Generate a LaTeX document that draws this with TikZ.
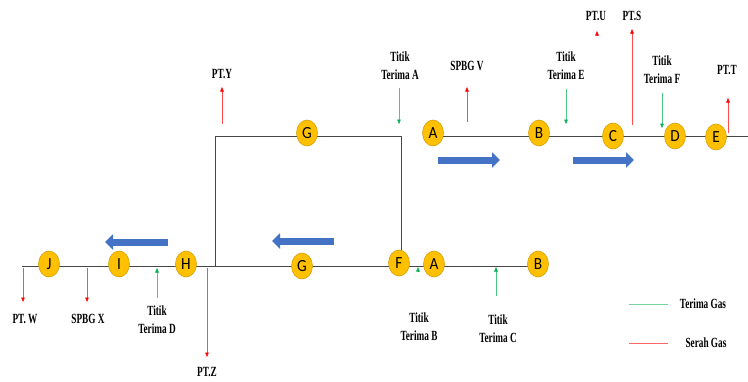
\documentclass[tikz,border=0pt]{standalone}
\usepackage{fontspec}
\setmainfont{Liberation Serif}
\newfontfamily\labelfont[FakeStretch=0.66]{Liberation Serif}
\newfontfamily\nodefont[FakeStretch=0.9]{Carlito}
\usetikzlibrary{arrows.meta,shapes.geometric}
\definecolor{pipe}{RGB}{70,70,70}
\definecolor{junction}{RGB}{255,192,0}
\definecolor{junctionedge}{RGB}{205,155,0}
\definecolor{flow}{RGB}{68,114,196}
\definecolor{gasin}{RGB}{0,176,80}
\definecolor{gasout}{RGB}{255,0,0}
\begin{document}
\begin{tikzpicture}[x=1pt,y=-1pt,
  junc/.style={ellipse, fill=junction, draw=junctionedge, line width=0.5pt,
    minimum width=21pt, minimum height=26pt, inner sep=0pt,
    font=\nodefont\fontsize{17}{17}\selectfont},
  pipeline/.style={draw=pipe, line width=0.8pt},
  flowarrow/.style={draw=flow, line width=7pt, -{Triangle[length=8pt,width=15pt]}},
  gasarrow/.style={line width=0.5pt, -{Triangle[length=4.5pt,width=3.5pt]}},
  inarrow/.style={gasarrow, draw=gasin!70, -{Triangle[length=4.5pt,width=3.5pt,color=gasin]}},
  outarrow/.style={gasarrow, draw=gasout!70, -{Triangle[length=4.5pt,width=3.5pt,color=gasout]}},
  lbl/.style={font=\labelfont\bfseries\fontsize{14}{18}\selectfont, align=center, inner sep=0pt},
  legendline/.style={line width=1pt}]
\useasboundingbox (0,0) rectangle (748,381);
\fill[white] (0,0) rectangle (748,381);

% ---- pipe corners and free ends
\coordinate (rectTL) at (215,136);
\coordinate (rectTR) at (401,136);
\coordinate (rectBL) at (215,266);
\coordinate (rectBR) at (401,266);
\coordinate (topEnd) at (748,136);
\coordinate (botStart) at (22,266);

% ---- pipelines
\draw[pipeline] (rectBL) -- (rectTL) -- (rectTR) -- (rectBR);
\draw[pipeline] (433,136) -- (topEnd);
\draw[pipeline] (botStart) -- (537,266);

% ---- upper line junctions
\node[junc] (gTop) at (307,133) {G};
\node[junc] (aTop) at (433,133) {A};
\node[junc] (bTop) at (539,133) {B};
\node[junc] (cTop) at (613,136) {C};
\node[junc] (dTop) at (675,136) {D};
\node[junc] (eTop) at (716,137) {E};

% ---- lower line junctions
\node[junc] (jBot) at (49,264) {J};
\node[junc] (iBot) at (119,264) {I};
\node[junc] (hBot) at (186,264) {H};
\node[junc] (gBot) at (302,266) {G};
\node[junc] (fBot) at (399,263) {F};
\node[junc] (aBot) at (434,264) {A};
\node[junc] (bBot) at (538,264) {B};

% ---- flow direction arrows
\coordinate (f1s) at (438,160); \coordinate (f1e) at (500,160);
\coordinate (f2s) at (573,160); \coordinate (f2e) at (634,160);
\coordinate (f3s) at (168,242); \coordinate (f3e) at (105,242);
\coordinate (f4s) at (334,241); \coordinate (f4e) at (272,241);
\draw[flowarrow] (f1s) -- (f1e);
\draw[flowarrow] (f2s) -- (f2e);
\draw[flowarrow] (f3s) -- (f3e);
\draw[flowarrow] (f4s) -- (f4e);

% ---- upper line: receiving and delivery points
\node[lbl] (tPTY) at (222,74) {PT.Y};
\coordinate (aPTYs) at (222,124); \coordinate (aPTYe) at (222,87);
\draw[outarrow] (aPTYs) -- (aPTYe);

\node[lbl] (tTA) at (400,66) {Titik\\Terima A};
\coordinate (aTAs) at (399,88); \coordinate (aTAe) at (399,124);
\draw[inarrow] (aTAs) -- (aTAe);

\node[lbl] (tSPBGV) at (467,66) {SPBG V};
\coordinate (aSVs) at (467,122); \coordinate (aSVe) at (467,87);
\draw[outarrow] (aSVs) -- (aSVe);

\node[lbl] (tTE) at (566,66) {Titik\\Terima E};
\coordinate (aTEs) at (566,89); \coordinate (aTEe) at (566,124);
\draw[inarrow] (aTEs) -- (aTEe);

\node[lbl] (tPTU) at (596,16) {PT.U};
\coordinate (aPUs) at (597,36); \coordinate (aPUe) at (597,31);
\draw[outarrow] (aPUs) -- (aPUe);

\node[lbl] (tPTS) at (632,16) {PT.S};
\coordinate (aPSs) at (632,125); \coordinate (aPSe) at (632,29);
\draw[outarrow] (aPSs) -- (aPSe);

\node[lbl] (tTF) at (662,70) {Titik\\Terima F};
\coordinate (aTFs) at (662,93); \coordinate (aTFe) at (662,128);
\draw[inarrow] (aTFs) -- (aTFe);

\node[lbl] (tPTT) at (727,70) {PT.T};
\coordinate (aPTs) at (728,133); \coordinate (aPTe) at (728,98);
\draw[outarrow] (aPTs) -- (aPTe);

% ---- lower line: receiving and delivery points
\node[lbl] (tPTW) at (25,319) {PT. W};
\coordinate (aPWs) at (23,268); \coordinate (aPWe) at (23,302);
\draw[outarrow] (aPWs) -- (aPWe);

\node[lbl] (tSPBGX) at (88,319) {SPBG X};
\coordinate (aSXs) at (87,268); \coordinate (aSXe) at (87,302);
\draw[outarrow] (aSXs) -- (aSXe);

\node[lbl] (tTD) at (157,320) {Titik\\Terima D};
\coordinate (aTDs) at (157,298); \coordinate (aTDe) at (157,268);
\draw[inarrow] (aTDs) -- (aTDe);

\node[lbl] (tPTZ) at (207,372) {PT.Z};
\coordinate (aPZs) at (207,268); \coordinate (aPZe) at (207,357);
\draw[outarrow] (aPZs) -- (aPZe);

\node[lbl] (tTB) at (419,327) {Titik\\Terima B};
\coordinate (aTBs) at (418,272); \coordinate (aTBe) at (418,267);
\draw[inarrow] (aTBs) -- (aTBe);

\node[lbl] (tTC) at (498,329) {Titik\\Terima C};
\coordinate (aTCs) at (496,296); \coordinate (aTCe) at (496,267);
\draw[inarrow] (aTCs) -- (aTCe);

% ---- legend
\coordinate (lgInS) at (629,304); \coordinate (lgInE) at (668,304);
\coordinate (lgOutS) at (629,343); \coordinate (lgOutE) at (668,343);
\draw[legendline, gasin!55] (lgInS) -- (lgInE);
\draw[legendline, gasout!60] (lgOutS) -- (lgOutE);
\node[lbl] (tLgIn) at (703,304) {Terima Gas};
\node[lbl] (tLgOut) at (706,343) {Serah Gas};
\end{tikzpicture}
\end{document}
